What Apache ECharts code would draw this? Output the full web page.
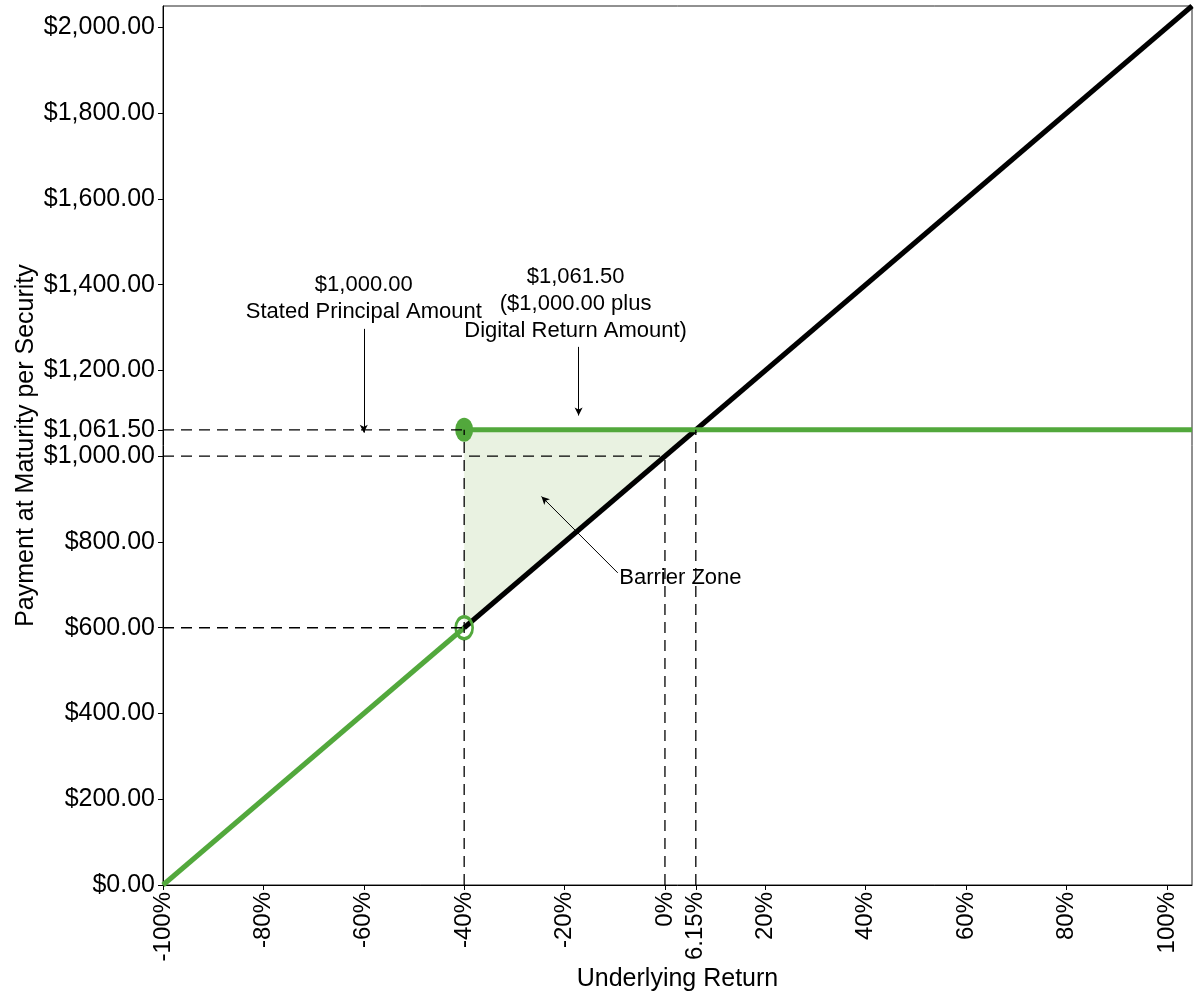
<!DOCTYPE html>
<html>
<head>
<meta charset="utf-8">
<script src="https://cdn.jsdelivr.net/npm/echarts@6/dist/echarts.min.js"></script>
<style>html,body{margin:0;padding:0;background:#fff}#chart{width:1200px;height:1000px}</style>
</head>
<body>
<div id="chart"></div>
<script>
// ---- data ----
const xTicks = [-100, -80, -60, -40, -20, 0, 6.15, 20, 40, 60, 80, 100];
const yTicks = [0, 200, 400, 600, 800, 1000, 1061.5, 1200, 1400, 1600, 1800, 2000];
const blackLine = [[-40, 600], [105, 2050]];
const greenLow = [[-100, 0], [-40, 600]];
const greenFlat = [[-40, 1061.5], [105, 1061.5]];
const barrierZone = [[-40, 600], [-40, 1061.5], [6.15, 1061.5]];
const openPoint = [[-40, 600]];
const filledPoint = [[-40, 1061.5]];
const dashLines = [
  [[-100, 1061.5], [-40, 1061.5]],
  [[-100, 1000], [0, 1000]],
  [[-100, 600], [-40, 600]],
  [[-40, 0], [-40, 1061.5]],
  [[0, 0], [0, 1000]],
  [[6.15, 0], [6.15, 1061.5]]
];
const annotationTexts = ['$1,000.00\nStated Principal Amount', '$1,061.50\n($1,000.00 plus\nDigital Return Amount)', 'Barrier Zone'];
const annotationAt = [[-60, 1368], [-17.8, 1355], [-9.1, 716]];
const arrows = [
  [[-60, 1297], [-60, 1055]],
  [[-17.2, 1255], [-17.2, 1095]],
  [[-9.4, 728], [-24.6, 906]]
];

// ---- chart ----
const FONT = "'Liberation Sans', Arial, sans-serif";
const GREEN = '#52a83c';
const chart = echarts.init(document.getElementById('chart'), null, {renderer: 'canvas'});

function money(v) {
  return '$' + Number(v).toFixed(2).replace(/\B(?=(\d{3})+(?!\d))/g, ',');
}

const series = [];

// Barrier zone polygon
series.push({
  type: 'custom',
  z: 1,
  data: [0],
  renderItem: function (params, api) {
    const pts = barrierZone.map(p => api.coord(p));
    return {type: 'polygon', shape: {points: pts}, style: {fill: '#e9f2e1', stroke: null}};
  },
  silent: true
});

// dashed reference lines
dashLines.forEach(function (seg) {
  series.push({
    type: 'line', data: seg, symbol: 'none', z: 6, silent: true,
    lineStyle: {color: '#000', width: 1.3, type: [11, 7]}
  });
});

series.push({
  type: 'line', data: blackLine, symbol: 'none', z: 3, silent: true,
  lineStyle: {color: '#000', width: 5}
});
series.push({
  type: 'line', data: greenLow, symbol: 'none', z: 4, silent: true,
  lineStyle: {color: GREEN, width: 5}
});
series.push({
  type: 'line', data: greenFlat, symbol: 'none', z: 4, silent: true,
  lineStyle: {color: GREEN, width: 5}
});
series.push({
  type: 'scatter', data: filledPoint, symbol: 'circle', symbolSize: [18, 24], z: 5, silent: true,
  itemStyle: {color: GREEN, opacity: 1}
});
series.push({
  type: 'scatter', data: openPoint, symbol: 'circle', symbolSize: [17, 22], z: 5, silent: true,
  itemStyle: {color: 'rgba(0,0,0,0)', borderColor: GREEN, borderWidth: 3, opacity: 1}
});

// annotation arrows
series.push({
  type: 'line', data: [], silent: true, z: 7,
  markLine: {
    silent: true, animation: false,
    symbol: ['none', 'arrow'], symbolSize: [6, 8],
    label: {show: false},
    lineStyle: {color: '#000', width: 1, type: 'solid', opacity: 1},
    emphasis: {disabled: true},
    data: arrows.map(a => [{coord: a[0]}, {coord: a[1]}])
  }
});

// annotation texts
series.push({
  type: 'scatter', symbolSize: 0, z: 8, silent: true,
  itemStyle: {opacity: 1},
  data: annotationAt.map((p, i) => ({
    value: p,
    label: {
      show: true,
      formatter: annotationTexts[i],
      position: i === 2 ? 'right' : 'inside',
      distance: 0,
      align: i === 2 ? 'left' : 'center',
      verticalAlign: 'middle',
      color: '#000', opacity: 1, fontSize: 22, lineHeight: 27, fontFamily: FONT
    }
  }))
});

chart.setOption({
  animation: false,
  backgroundColor: '#fff',
  grid: {left: 163, right: 8, top: 6, bottom: 115, show: true, borderColor: '#222', borderWidth: 1},
  xAxis: {
    type: 'value', min: -100, max: 105,
    name: 'Underlying Return', nameLocation: 'middle', nameGap: 82, nameMoveOverlap: false,
    nameTextStyle: {color: '#000', fontSize: 25, fontFamily: FONT},
    axisLine: {show: true, onZero: false, lineStyle: {color: '#000', width: 1}},
    axisTick: {show: true, length: 5, customValues: xTicks, lineStyle: {color: '#000'}},
    axisLabel: {
      customValues: xTicks, rotate: 90, margin: 7,
      formatter: v => v + '%',
      color: '#000', fontSize: 24, fontFamily: FONT, hideOverlap: false
    },
    splitLine: {show: false}
  },
  yAxis: {
    type: 'value', min: 0, max: 2050,
    name: 'Payment at Maturity per Security', nameLocation: 'middle', nameGap: 124, nameMoveOverlap: false,
    nameTextStyle: {color: '#000', fontSize: 25, fontFamily: FONT},
    axisLine: {show: true, onZero: false, lineStyle: {color: '#000', width: 1}},
    axisTick: {show: true, length: 5, customValues: yTicks, lineStyle: {color: '#000'}},
    axisLabel: {
      customValues: yTicks, margin: 8,
      formatter: v => money(v),
      color: '#000', fontSize: 25, fontFamily: FONT, hideOverlap: false
    },
    splitLine: {show: false}
  },
  series: series
});
</script>
</body>
</html>
